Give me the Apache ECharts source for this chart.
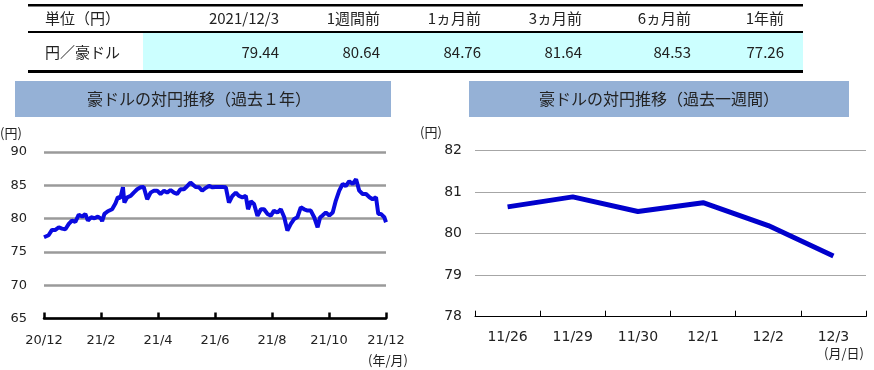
<!DOCTYPE html>
<html><head><meta charset="utf-8">
<script src="https://cdn.jsdelivr.net/npm/echarts@6/dist/echarts.min.js"></script>
<style>html,body{margin:0;padding:0;background:#fff}#c{width:874px;height:370px}</style>
</head><body><div id="c"></div>
<script>
// ---- data ----
const tableHeaders = ['2021/12/3', '1週間前', '1ヵ月前', '3ヵ月前', '6ヵ月前', '1年前'];
const tableValues = ['79.44', '80.64', '84.76', '81.64', '84.53', '77.26'];
const tableUnit = '単位（円）';
const tableRowLabel = '円／豪ドル';

const yearTickLabels = ['20/12', '21/2', '21/4', '21/6', '21/8', '21/10', '21/12'];
const yearMonths = [0,0.16,0.28,0.40,0.52,0.63,0.75,0.87,0.98,1.10,1.22,1.34,1.45,1.54,1.65,1.77,1.89,2.00,2.04,2.12,2.24,2.39,2.51,2.59,2.68,2.77,2.82,2.92,3.04,3.15,3.27,3.39,3.50,3.62,3.74,3.86,3.97,4.09,4.21,4.32,4.44,4.56,4.67,4.79,4.91,5.03,5.14,5.20,5.32,5.44,5.55,5.67,5.79,5.91,6.02,6.14,6.26,6.38,6.43,6.49,6.61,6.73,6.84,6.96,7.08,7.16,7.26,7.37,7.49,7.61,7.72,7.84,7.96,8.07,8.19,8.31,8.43,8.54,8.66,8.78,8.89,9.01,9.13,9.25,9.36,9.48,9.60,9.69,9.77,9.89,10.01,10.13,10.24,10.36,10.48,10.59,10.71,10.83,10.95,11.06,11.18,11.30,11.42,11.53,11.65,11.73,11.82,11.94,12.0];
const yearValues = [77.2,77.5,78.3,78.3,78.7,78.5,78.4,79.2,79.7,79.5,80.6,80.3,80.7,79.7,80.2,80.05,80.3,80.0,79.6,80.7,81.1,81.4,82.3,83.2,83.1,84.7,82.4,83.2,83.4,83.9,84.4,84.7,84.75,82.9,83.9,84.2,84.2,83.7,84.2,83.9,84.3,83.9,83.7,84.4,84.4,84.9,85.4,85.5,84.75,84.7,84.2,84.6,84.9,84.7,84.75,84.75,84.75,84.7,84.6,82.4,83.4,83.9,83.4,83.2,83.4,81.4,82.6,82.2,80.4,81.4,81.4,80.7,80.45,81.2,80.9,81.4,80.2,78.2,79.2,79.95,80.2,81.7,81.4,81.2,81.2,80.2,78.7,80.2,80.45,80.9,80.45,80.9,82.7,84.2,85.2,84.9,85.6,85.2,85.9,84.2,83.7,83.7,83.2,82.9,83.2,80.7,80.7,80.2,79.45];

const weekDates = ['11/26', '11/29', '11/30', '12/1', '12/2', '12/3'];
const weekValues = [80.64, 80.88, 80.53, 80.74, 80.19, 79.46];

// ---- chart ----
const chart = echarts.init(document.getElementById('c'), null, {renderer: 'canvas'});
const JP = '"Noto Sans CJK JP", "Noto Sans", sans-serif';
const NUM = '"DejaVu Sans", Verdana, sans-serif';
const txtColor = '#222';

const headerRight = [279, 380, 481, 582, 691, 784];
const graphics = [
  {type: 'rect', shape: {x: 143, y: 33, width: 660, height: 37}, style: {fill: '#CCFFFF'}},
  {type: 'rect', shape: {x: 28, y: 4, width: 775, height: 2.5}, style: {fill: '#000'}},
  {type: 'rect', shape: {x: 28, y: 31, width: 775, height: 2}, style: {fill: '#000'}},
  {type: 'rect', shape: {x: 28, y: 70, width: 775, height: 3}, style: {fill: '#000'}},
  {type: 'text', style: {text: tableUnit, x: 45, y: 18, font: '15px ' + JP, fill: txtColor, textAlign: 'left', textVerticalAlign: 'middle'}},
  {type: 'text', style: {text: tableRowLabel, x: 45, y: 52, font: '15px ' + JP, fill: txtColor, textAlign: 'left', textVerticalAlign: 'middle'}},
  // title boxes
  {type: 'rect', shape: {x: 15, y: 81, width: 376, height: 36}, style: {fill: '#95B1D6'}},
  {type: 'text', style: {text: '豪ドルの対円推移（過去１年）', x: 199, y: 99, font: '16px ' + JP, fill: txtColor, textAlign: 'center', textVerticalAlign: 'middle'}},
  {type: 'rect', shape: {x: 469, y: 81, width: 380, height: 36}, style: {fill: '#95B1D6'}},
  {type: 'text', style: {text: '豪ドルの対円推移（過去一週間）', x: 659, y: 99, font: '16px ' + JP, fill: txtColor, textAlign: 'center', textVerticalAlign: 'middle'}},
  // unit labels
  {type: 'text', style: {text: '(円)', x: 0, y: 133, font: '13px ' + JP, fill: txtColor, textAlign: 'left', textVerticalAlign: 'middle'}},
  {type: 'text', style: {text: '(円)', x: 420, y: 132, font: '13px ' + JP, fill: txtColor, textAlign: 'left', textVerticalAlign: 'middle'}},
  {type: 'text', style: {text: '(年/月)', x: 408, y: 360, font: '13px ' + JP, fill: txtColor, textAlign: 'right', textVerticalAlign: 'middle'}},
  {type: 'text', style: {text: '(月/日)', x: 864, y: 353, font: '13px ' + JP, fill: txtColor, textAlign: 'right', textVerticalAlign: 'middle'}}
];
tableHeaders.forEach((h, i) => {
  graphics.push({type: 'text', style: {text: h, x: headerRight[i], y: 18, font: '15px ' + JP, fill: txtColor, textAlign: 'right', textVerticalAlign: 'middle'}});
  graphics.push({type: 'text', style: {text: tableValues[i], x: headerRight[i], y: 52, font: '15px ' + JP, fill: txtColor, textAlign: 'right', textVerticalAlign: 'middle'}});
});

chart.setOption({
  animation: false,
  graphic: graphics,
  grid: [
    {left: 44, right: 488, top: 152, bottom: 51.5, containLabel: false},
    {left: 475, right: 8, top: 150.3, bottom: 53.3, containLabel: false}
  ],
  xAxis: [
    {
      type: 'value', gridIndex: 0, min: 0, max: 12, interval: 2,
      axisLine: {show: true, onZero: false, lineStyle: {color: '#000', width: 2.5}},
      axisTick: {show: true, inside: true, length: 6, lineStyle: {color: '#000', width: 2.5}},
      axisLabel: {margin: 16, color: txtColor, fontSize: 13, fontFamily: NUM,
        formatter: v => yearTickLabels[Math.round(v / 2)]},
      splitLine: {show: false}
    },
    {
      type: 'category', gridIndex: 1, data: weekDates, boundaryGap: true,
      axisLine: {show: true, onZero: false, lineStyle: {color: '#000', width: 1}},
      axisTick: {show: true, inside: true, length: 6, lineStyle: {color: '#000', width: 1}},
      axisLabel: {margin: 14, color: txtColor, fontSize: 14, fontFamily: NUM},
      splitLine: {show: false}
    }
  ],
  yAxis: [
    {
      type: 'value', gridIndex: 0, min: 65, max: 90, interval: 5,
      axisLine: {show: false}, axisTick: {show: false},
      axisLabel: {margin: 17, color: txtColor, fontSize: 13, fontFamily: NUM},
      splitLine: {show: true, lineStyle: {color: '#9A9A9A', width: 2.5}}
    },
    {
      type: 'value', gridIndex: 1, min: 78, max: 82, interval: 1,
      axisLine: {show: false}, axisTick: {show: false},
      axisLabel: {margin: 13, color: txtColor, fontSize: 14, fontFamily: NUM},
      splitLine: {show: true, lineStyle: {color: '#A6A6A6', width: 1}}
    }
  ],
  series: [
    {
      type: 'line', xAxisIndex: 0, yAxisIndex: 0, symbol: 'none',
      data: yearMonths.map((m, i) => [m, yearValues[i]]),
      lineStyle: {color: '#0A0AE0', width: 4}, z: 5
    },
    {
      type: 'line', xAxisIndex: 1, yAxisIndex: 1, symbol: 'none',
      data: weekValues,
      lineStyle: {color: '#0000CC', width: 5}, z: 5
    }
  ]
});
</script></body></html>
